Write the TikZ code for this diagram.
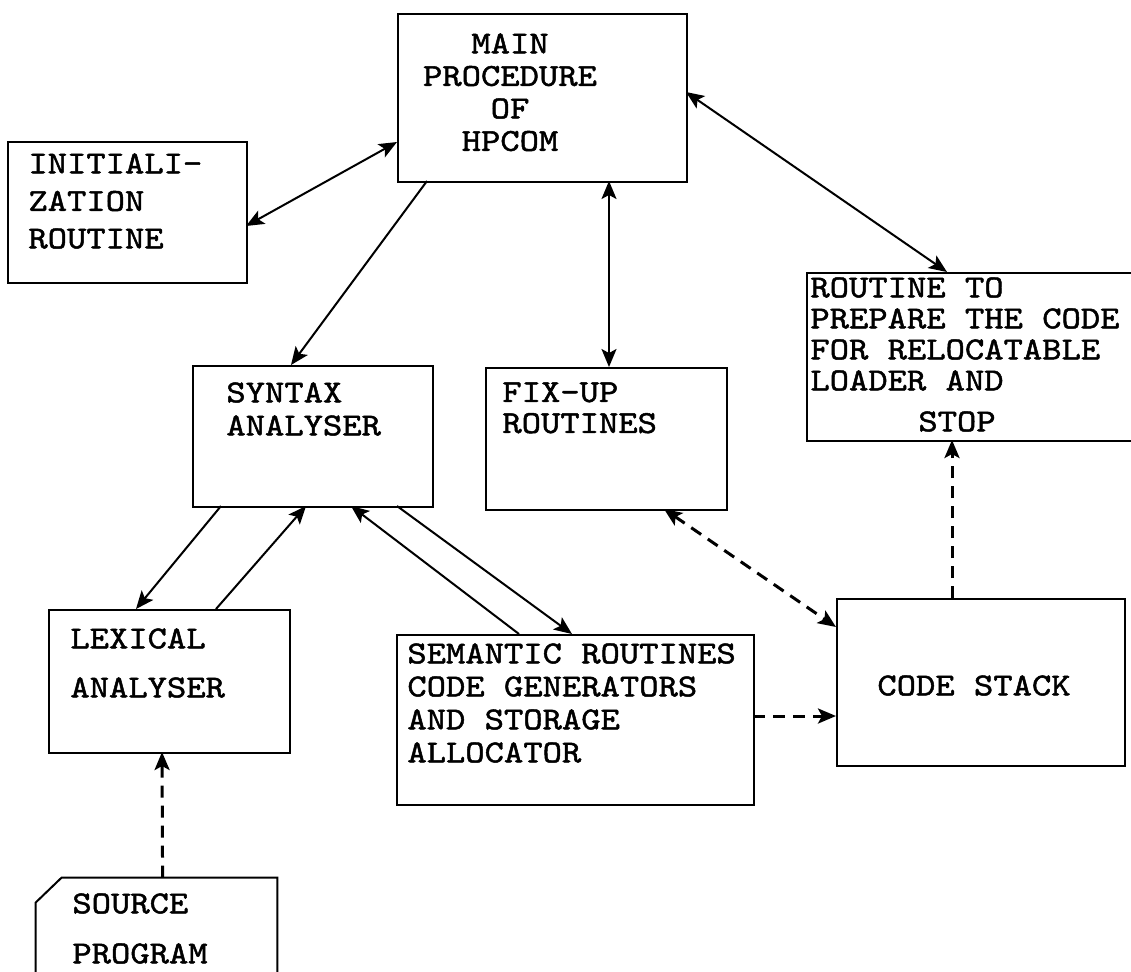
\documentclass[tikz,border=0pt]{standalone}
\usepackage{fontspec}
\newfontfamily\typefont{lmmono10-regular.otf}[FakeStretch=1.15, FakeBold=1.5]
\usetikzlibrary{arrows.meta}
\usetikzlibrary{calc}
\usetikzlibrary{fit}

\tikzset{
  box/.style={draw, line width=1pt, inner sep=0pt},
  lbl/.style={font=\typefont\fontsize{16}{#1}\selectfont, inner sep=0pt, anchor=north west, align=left},
  lbl/.default=16.5,
  conn/.style={line width=1pt},
  dconn/.style={line width=1.5pt, dash pattern=on 6pt off 4pt},
}

\begin{document}
\begin{tikzpicture}[x=0.5pt, y=-0.5pt, >={Stealth[length=9pt,width=7.5pt,inset=2pt]}]
    \fill[white] (0,0) rectangle (1131,971);
    \useasboundingbox (0,0) rectangle (1131,971);
    % boxes
    \node [box, fit={(398,14) (687,182)}] (main) {};
    \node [box, fit={(8,142) (247,283)}] (init) {};
    \node [box, fit={(193,366) (433,507)}] (syntax) {};
    \node [box, fit={(486,368) (727,510)}] (fixup) {};
    \node [box, fit={(807,273) (1150,441)}] (routine) {};
    \node [box, fit={(49,610) (290,753)}] (lexical) {};
    \node [box, fit={(397,635) (754,805)}] (semantic) {};
    \node [box, fit={(837,599) (1125,766)}] (stack) {};
    \node [inner sep=0pt, fit={(36,878) (277,1000)}] (source) {};
    \draw [line width=1pt] ($(source.north west)+(26,0)$) -- (source.north east)
        -- (source.south east) -- (source.south west)
        -- ($(source.north west)+(0,25)$) -- cycle;
    % texts
    \node [lbl=16.25, anchor=north, align=center] (mainText) at (510,33) {MAIN\\PROCEDURE\\OF\\HPCOM};
    \node [lbl=18.75] (initText) at (28,153) {INITIALI-\\ZATION\\ROUTINE};
    \node [lbl] (syntaxText) at (226,382) {SYNTAX\\ANALYSER};
    \node [lbl=15.5] (fixupText) at (502,382) {FIX-UP\\ROUTINES};
    \node [lbl=15.5] (routineText) at (810,277) {ROUTINE TO\\PREPARE THE CODE\\FOR RELOCATABLE\\LOADER AND\\[5pt]\hspace*{54pt}STOP};
    \node [lbl=24.5] (lexicalText) at (70,628) {LEXICAL\\ANALYSER};
    \node [lbl] (semanticText) at (407,643) {SEMANTIC ROUTINES\\CODE GENERATORS\\AND STORAGE\\ALLOCATOR};
    \node [lbl] (stackText) at (877,675) {CODE STACK};
    \node [lbl=25] (sourceText) at (72,893) {SOURCE\\PROGRAM};
    % connectors
    \draw [conn, <->] ($(init.north west)+(239,85)$) -- ($(main.north west)+(0,129)$);
    \draw [conn, ->] ($(main.north west)+(30,168)$) -- ($(syntax.north west)+(99,0)$);
    \draw [conn, <->] ($(main.north west)+(212,168)$) -- ($(fixup.north west)+(124,0)$);
    \draw [conn, <->] ($(main.north west)+(289,79)$) -- ($(routine.north west)+(141,0)$);
    \draw [conn, ->] ($(syntax.north west)+(29,141)$) -- ($(lexical.north west)+(88,0)$);
    \draw [conn, ->] ($(lexical.north west)+(168,0)$) -- ($(syntax.north west)+(114,141)$);
    \draw [conn, ->] ($(semantic.north west)+(123,0)$) -- ($(syntax.north west)+(159,141)$);
    \draw [conn, ->] ($(syntax.north west)+(205,141)$) -- ($(semantic.north west)+(176,0)$);
    \draw [dconn, <->] ($(fixup.north west)+(179,142)$) -- ($(stack.north west)+(0,29)$);
    \draw [dconn, ->] ($(semantic.north west)+(357,82)$) -- ($(stack.north west)+(0,118)$);
    \draw [dconn, ->] ($(stack.north west)+(116,0)$) -- ($(routine.north west)+(146,168)$);
    \draw [dconn, ->] ($(source.north west)+(127,0)$) -- ($(lexical.north west)+(114,143)$);
\end{tikzpicture}
\end{document}
